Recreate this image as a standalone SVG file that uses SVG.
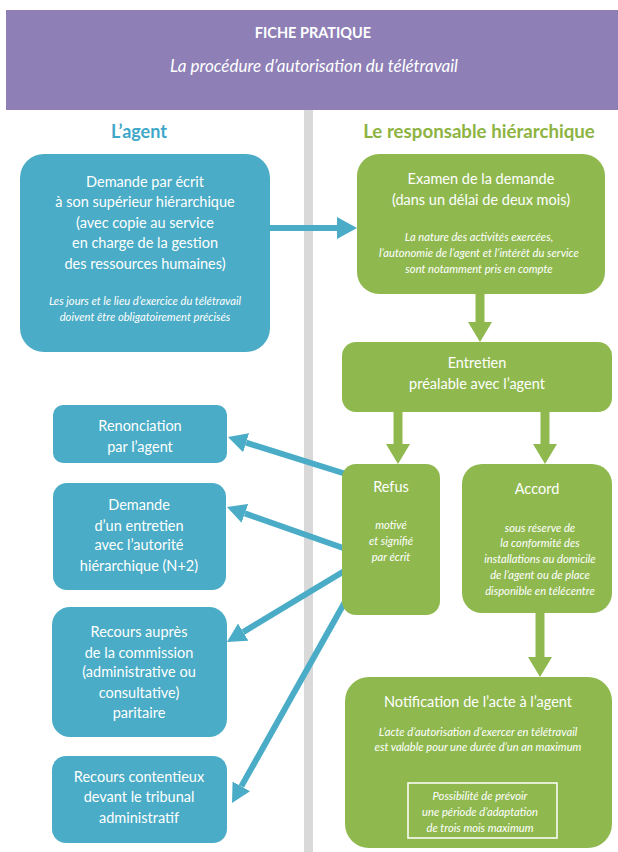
<svg xmlns="http://www.w3.org/2000/svg" width="618" height="852" viewBox="0 0 618 852">
<style>
  .t{font-family:Lato,"Open Sans","Liberation Sans",sans-serif;fill:#ffffff;text-anchor:middle;}
  .m{font-size:14.5px;}
  .i{font-size:11.2px;font-style:italic;}
  .blue{fill:#4aacc6;}
  .green{fill:#8fb94f;}
  .bl{stroke:#4aacc6;stroke-width:6;fill:none;}
  .gl{stroke:#8fb94f;stroke-width:9;fill:none;}
  .bl2{stroke:#4aacc6;stroke-width:6;fill:none;}
</style>
<defs>
  <marker id="hb" markerUnits="userSpaceOnUse" markerWidth="20" markerHeight="22" refX="0" refY="11" orient="auto">
    <path d="M0,0 L20,11 L0,22 z" fill="#4aacc6"/>
  </marker>
  <marker id="hb2" markerUnits="userSpaceOnUse" markerWidth="19" markerHeight="20" refX="0" refY="10" orient="auto">
    <path d="M0,0 L19,10 L0,20 z" fill="#4aacc6"/>
  </marker>
  <marker id="hg" markerUnits="userSpaceOnUse" markerWidth="20" markerHeight="24" refX="0" refY="12" orient="auto">
    <path d="M0,0 L20,12 L0,24 z" fill="#8fb94f"/>
  </marker>
</defs>
<rect width="618" height="852" fill="#ffffff"/>
<g id="header">
  <rect x="6" y="10" width="612" height="100" fill="#8e7fb6"/>
  <text class="t" x="313" y="38" font-size="14.5" font-weight="bold">FICHE PRATIQUE</text>
  <text class="t" x="314" y="72" font-size="17" font-style="italic">La procédure d’autorisation du télétravail</text>
</g>
<rect id="divider" x="304" y="110" width="9" height="742" fill="#d9d9d9"/>
<g id="col-titles">
  <text x="139" y="138" font-family="Lato,'Open Sans',sans-serif" font-size="18" font-weight="bold" fill="#3fa8c9" text-anchor="middle">L’agent</text>
  <text x="479" y="138" font-family="Lato,'Open Sans',sans-serif" font-size="18.7" font-weight="bold" fill="#8db442" text-anchor="middle">Le responsable hiérarchique</text>
</g>
<g id="connectors">
  <path class="bl" d="M268,228 L337,228" marker-end="url(#hb)"/>
  <path class="gl" d="M480,292 L480,322" marker-end="url(#hg)"/>
  <path class="gl" d="M398,410 L398,444" marker-end="url(#hg)"/>
  <path class="gl" d="M545,410 L545,444" marker-end="url(#hg)"/>
  <path class="gl" d="M540,611 L540,657" marker-end="url(#hg)"/>
  <path class="bl2" d="M346,474 L246.1,442.7" marker-end="url(#hb2)"/>
  <path class="bl2" d="M346,549 L244.9,513.4" marker-end="url(#hb2)"/>
  <path class="bl2" d="M346,570 L243.2,632.1" marker-end="url(#hb2)"/>
  <path class="bl2" d="M346,600 L241.3,786.4" marker-end="url(#hb2)"/>
</g>
<g id="demande-ecrit">
  <rect class="blue" x="20" y="154" width="250" height="198" rx="24"/>
  <text class="t m" x="145" y="187">Demande par écrit</text>
  <text class="t m" x="145" y="207">à son supérieur hiérarchique</text>
  <text class="t m" x="145" y="228">(avec copie au service</text>
  <text class="t m" x="145" y="248">en charge de la gestion</text>
  <text class="t m" x="145" y="269">des ressources humaines)</text>
  <text class="t i" x="145" y="305">Les jours et le lieu d’exercice du télétravail</text>
  <text class="t i" x="145" y="321">doivent être obligatoirement précisés</text>
</g>
<g id="examen">
  <rect class="green" x="357" y="154" width="248" height="140" rx="22"/>
  <text class="t m" x="481" y="184">Examen de la demande</text>
  <text class="t m" x="481" y="205">(dans un délai de deux mois)</text>
  <text class="t i" x="479" y="241">La nature des activités exercées,</text>
  <text class="t i" x="479" y="257">l’autonomie de l’agent et l’intérêt du service</text>
  <text class="t i" x="479" y="273">sont notamment pris en compte</text>
</g>
<g id="entretien">
  <rect class="green" x="342" y="342" width="270" height="70" rx="14"/>
  <text class="t m" x="477" y="368">Entretien</text>
  <text class="t m" x="477" y="389">préalable avec l’agent</text>
</g>
<g id="refus">
  <rect class="green" x="342" y="464" width="98" height="151" rx="14"/>
  <text class="t m" x="391" y="492">Refus</text>
  <text class="t i" x="391" y="529">motivé</text>
  <text class="t i" x="391" y="545">et signifié</text>
  <text class="t i" x="391" y="561">par écrit</text>
</g>
<g id="accord">
  <rect class="green" x="462" y="464" width="150" height="149" rx="20"/>
  <text class="t m" x="537" y="494">Accord</text>
  <text class="t i" x="540" y="532">sous réserve de</text>
  <text class="t i" x="540" y="547">la conformité des</text>
  <text class="t i" x="540" y="563">installations au domicile</text>
  <text class="t i" x="540" y="579">de l’agent ou de place</text>
  <text class="t i" x="540" y="595">disponible en télécentre</text>
</g>
<g id="notification">
  <rect class="green" x="345" y="677" width="267" height="171" rx="24"/>
  <text class="t m" x="478" y="707">Notification de l’acte à l’agent</text>
  <text class="t i" x="478" y="736">L’acte d’autorisation d’exercer en télétravail</text>
  <text class="t i" x="478" y="751">est valable pour une durée d’un an maximum</text>
  <rect x="408" y="783" width="149" height="55" fill="none" stroke="#ffffff" stroke-width="1.5"/>
  <text class="t i" x="480" y="800">Possibilité de prévoir</text>
  <text class="t i" x="480" y="816">une période d’adaptation</text>
  <text class="t i" x="480" y="832">de trois mois maximum</text>
</g>
<g id="renonciation">
  <rect class="blue" x="53" y="405" width="174" height="58" rx="10"/>
  <text class="t m" x="140" y="431">Renonciation</text>
  <text class="t m" x="140" y="452">par l’agent</text>
</g>
<g id="demande-n2">
  <rect class="blue" x="53" y="483" width="173" height="107" rx="14"/>
  <text class="t m" x="139" y="510">Demande</text>
  <text class="t m" x="139" y="531">d’un entretien</text>
  <text class="t m" x="139" y="550">avec l’autorité</text>
  <text class="t m" x="139" y="571">hiérarchique (N+2)</text>
</g>
<g id="recours-cap">
  <rect class="blue" x="52" y="607" width="175" height="130" rx="18"/>
  <text class="t m" x="139" y="637">Recours auprès</text>
  <text class="t m" x="139" y="658">de la commission</text>
  <text class="t m" x="139" y="677">(administrative ou</text>
  <text class="t m" x="139" y="698">consultative)</text>
  <text class="t m" x="139" y="718">paritaire</text>
</g>
<g id="recours-ta">
  <rect class="blue" x="52" y="756" width="175" height="87" rx="14"/>
  <text class="t m" x="139" y="782">Recours contentieux</text>
  <text class="t m" x="139" y="802">devant le tribunal</text>
  <text class="t m" x="139" y="823">administratif</text>
</g>
</svg>
